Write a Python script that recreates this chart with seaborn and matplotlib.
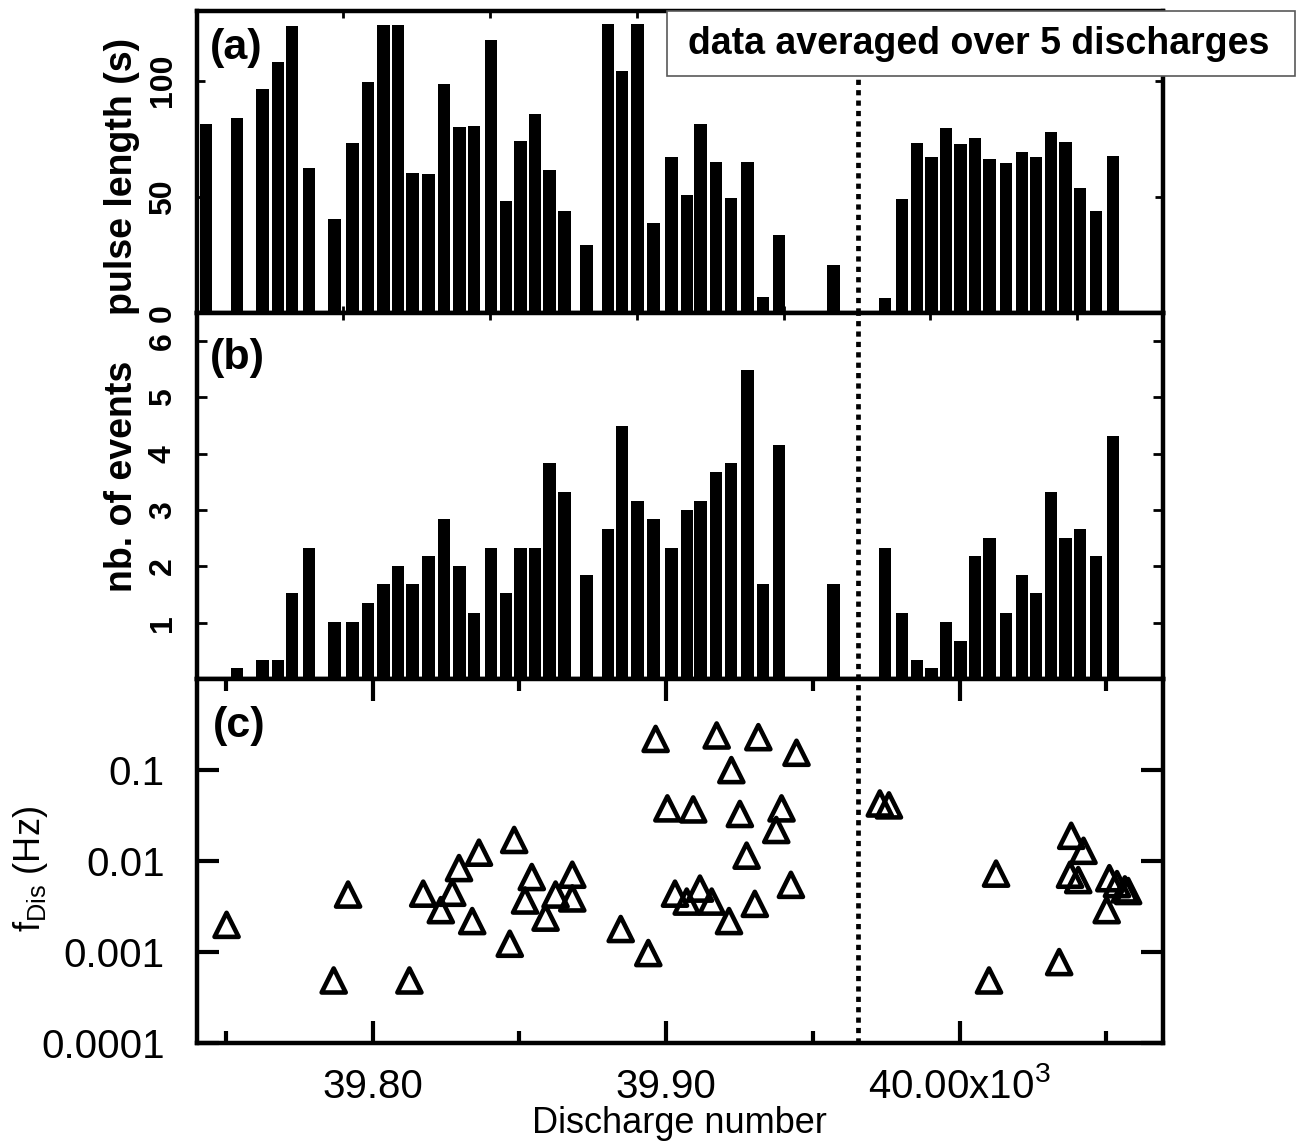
import numpy as np
import pandas as pd
import matplotlib
matplotlib.use("Agg")
import matplotlib.pyplot as plt
import matplotlib.ticker as mticker
from matplotlib.patches import Rectangle
import seaborn as sns

# discharge number at the centre of each 5-shot bin (panels a and b)
bin_centre = [39743.1, 39753.8, 39762.4, 39767.7, 39772.4, 39778.2, 39787.0, 39793.1,
              39798.4, 39803.7, 39808.5, 39813.6, 39819.0, 39824.3, 39829.6, 39834.4,
              39840.4, 39845.3, 39850.3, 39855.3, 39860.2, 39865.3, 39872.8, 39880.2,
              39885.0, 39890.2, 39895.7, 39901.8, 39907.0, 39911.7, 39916.9, 39922.1,
              39927.7, 39933.1, 39938.5, 39957.0, 39974.6, 39980.4, 39985.4, 39990.4,
              39995.4, 40000.3, 40005.3, 40010.2, 40015.9, 40021.3, 40026.0, 40031.2,
              40036.1, 40040.9, 40046.4, 40052.2]
pulse_length = [81.3, 84.1, 96.4, 108.1, 123.5, 62.5, 40.4, 73.1, 99.3, 123.8, 123.8, 60.4,
                59.8, 98.6, 80.0, 80.7, 117.3, 48.1, 74.1, 85.7, 61.5, 43.9, 29.4, 124.2,
                104.0, 124.2, 38.8, 67.3, 51.0, 81.3, 64.9, 49.3, 64.9, 6.8, 33.4, 20.5,
                6.4, 49.0, 73.1, 67.3, 79.6, 72.6, 75.5, 66.2, 64.4, 69.4, 67.3, 78.1,
                73.5, 53.9, 43.9, 67.7]
nb_events = [0.0, 0.19, 0.34, 0.34, 1.52, 2.33, 1.01, 1.01, 1.35, 1.68, 2.01, 1.68,
             2.18, 2.84, 2.01, 1.18, 2.33, 1.52, 2.33, 2.33, 3.84, 3.33, 1.84, 2.67,
             4.49, 3.17, 2.84, 2.33, 3.0, 3.17, 3.67, 3.84, 5.49, 1.68, 4.15, 1.68,
             2.33, 1.18, 0.34, 0.19, 1.01, 0.67, 2.18, 2.5, 1.18, 1.84, 1.52, 3.33,
             2.5, 2.67, 2.18, 4.31]

# panel (c): discharge frequency per discharge
disch_c = [39750.2, 39791.6, 39786.7, 39812.5, 39817.2, 39823.2, 39827.1, 39829.4,
           39836.2, 39833.9, 39848.2, 39846.7, 39854.2, 39851.9, 39858.9, 39862.3,
           39868.0, 39868.0, 39884.5, 39893.9, 39896.4, 39900.4, 39903.0, 39907.0,
           39909.2, 39911.5, 39915.5, 39917.2, 39921.4, 39922.2, 39925.1, 39927.4,
           39930.2, 39931.4, 39937.5, 39939.3, 39942.5, 39944.4, 39972.8, 39975.9,
           40010.0, 40012.4, 40033.9, 40037.6, 40040.4, 40038.0, 40042.2, 40050.1,
           40051.0, 40053.6, 40056.3, 40057.4]
f_dis = [0.0020, 0.0043, 0.00049, 0.00049, 0.0044, 0.0029, 0.0045, 0.0084,
         0.0124, 0.0022, 0.0171, 0.00124, 0.0067, 0.0037, 0.0024, 0.0043,
         0.0071, 0.0039, 0.0018, 0.00098, 0.22, 0.038, 0.0044, 0.0036,
         0.037, 0.0050, 0.0036, 0.24, 0.0022, 0.10, 0.033, 0.0115,
         0.0034, 0.23, 0.022, 0.038, 0.0055, 0.155, 0.043, 0.041,
         0.00049, 0.0073, 0.00078, 0.0071, 0.0062, 0.019, 0.013, 0.0029,
         0.0065, 0.0056, 0.0049, 0.0047]

a_ticks = [39790, 39840, 39890, 39940, 39990, 40040]
c_major = [39800, 39900, 40000]
c_major_labels = ["39.80", "39.90", r"40.00x10$^{3}$"]
c_minor = [39750, 39850, 39950, 40050]
pulse_ticks = [0, 50, 100]
event_ticks = [1, 2, 3, 4, 5, 6]
f_ticks = [1e-4, 1e-3, 1e-2, 1e-1]
f_tick_labels = ["0.0001", "0.001", "0.01", "0.1"]
split_discharge = 39965.4
x_range = (39740.0, 40069.3)

sns.set_theme(style="white", rc={"axes.edgecolor": "black", "xtick.color": "black",
                                 "ytick.color": "black", "text.color": "black",
                                 "axes.labelcolor": "black"})
plt.rcParams["font.family"] = ["Liberation Sans", "DejaVu Sans"]
plt.rcParams["mathtext.fontset"] = "custom"
plt.rcParams["mathtext.rm"] = "Liberation Sans"
plt.rcParams["mathtext.it"] = "Liberation Sans:italic"
plt.rcParams["mathtext.bf"] = "Liberation Sans:bold"

bars = pd.DataFrame({"discharge": bin_centre, "pulse": pulse_length, "events": nb_events})
bar_width = 4.2 / np.min(np.diff(bin_centre))

fig = plt.figure(figsize=(13.04, 11.42), dpi=100)
ax_a = fig.add_axes([0.1508, 0.7259, 0.7411, 0.2645])
ax_b = fig.add_axes([0.1508, 0.4054, 0.7411, 0.3205])
ax_c = fig.add_axes([0.1508, 0.0864, 0.7411, 0.3190])

sns.barplot(data=bars, x="discharge", y="pulse", ax=ax_a, native_scale=True,
            width=bar_width, color="black", saturation=1, errorbar=None, linewidth=0)
sns.barplot(data=bars, x="discharge", y="events", ax=ax_b, native_scale=True,
            width=bar_width, color="black", saturation=1, errorbar=None, linewidth=0)
sns.scatterplot(x=disch_c, y=f_dis, ax=ax_c, marker="^", s=300, facecolor="none",
                edgecolor="black", linewidth=3.3, zorder=3)

for ax in (ax_a, ax_b, ax_c):
    ax.set_xlim(*x_range)
    ax.axvline(split_discharge, color="black", lw=3.4, linestyle=(0, (1.1, 1.1)), zorder=4)
    for sp in ax.spines.values():
        sp.set_linewidth(3.2)
        sp.set_color("black")
    ax.set_xlabel("")

# panel (a)
ax_a.set_ylim(0, 130)
ax_a.set_xticks(a_ticks, labels=[])
ax_a.set_yticks(pulse_ticks, labels=[str(t) for t in pulse_ticks],
                fontsize=23, fontweight="bold", rotation=90, va="center")
ax_a.tick_params(axis="x", which="major", direction="in", top=True, bottom=True,
                 length=5, width=2)
ax_a.tick_params(axis="y", which="major", direction="in", left=True, right=True,
                 length=6, width=2, pad=13.5)
ax_a.set_ylabel("pulse length (s)", fontsize=27, fontweight="bold")
ax_a.yaxis.set_label_coords(-0.0587, 0.4536)
ax_a.text(0.0138, 0.944, "(a)", transform=ax_a.transAxes, ha="left", va="top",
          fontsize=31, fontweight="bold")

# panel (b)
ax_b.set_ylim(0, 6.5)
ax_b.set_xticks(a_ticks, labels=[])
ax_b.set_yticks(event_ticks, labels=[str(t) for t in event_ticks],
                fontsize=23, fontweight="bold", rotation=90, va="center")
ax_b.tick_params(axis="x", which="major", direction="in", top=True, bottom=False,
                 length=5, width=2)
ax_b.tick_params(axis="y", which="major", direction="in", left=True, right=True,
                 length=7, width=2, pad=13.5)
ax_b.set_ylabel("nb. of events", fontsize=27, fontweight="bold")
ax_b.yaxis.set_label_coords(-0.0587, 0.5546)
ax_b.text(0.0138, 0.932, "(b)", transform=ax_b.transAxes, ha="left", va="top",
          fontsize=31, fontweight="bold")

# panel (c)
ax_c.set_yscale("log")
ax_c.set_ylim(1e-4, 1)
ax_c.set_yticks(f_ticks, labels=f_tick_labels, fontsize=29)
ax_c.yaxis.set_minor_locator(mticker.NullLocator())
ax_c.set_xticks(c_major, labels=c_major_labels, fontsize=29, va="baseline")
ax_c.set_xticks(c_minor, minor=True)
ax_c.tick_params(axis="x", which="major", direction="in", top=True, bottom=True,
                 length=16, width=3, pad=39.4)
ax_c.tick_params(axis="x", which="minor", direction="in", top=True, bottom=True,
                 length=8.5, width=3)
ax_c.tick_params(axis="y", which="major", direction="in", left=True, right=True,
                 length=16, width=3, pad=22.8)
ax_c.set_xlabel("Discharge number", fontsize=26)
ax_c.xaxis.set_label_coords(0.5, -0.172)
ax_c.set_ylabel(r"f$_{\mathrm{Dis}}$ (Hz)", fontsize=26)
ax_c.yaxis.set_label_coords(-0.1518, 0.478)
ax_c.text(0.0168, 0.925, "(c)", transform=ax_c.transAxes, ha="left", va="top",
          fontsize=31, fontweight="bold")

# annotation box at the top
fig.add_artist(Rectangle((0.5115, 0.9335), 0.4816, 0.0569, transform=fig.transFigure,
                         facecolor="white", edgecolor="0.35", lw=1.2, zorder=5))
fig.text(0.7508, 0.9619, "data averaged over 5 discharges", ha="center", va="center",
         fontsize=27, fontweight="bold", zorder=6)

fig.savefig("out.png", dpi=100, facecolor="white")
